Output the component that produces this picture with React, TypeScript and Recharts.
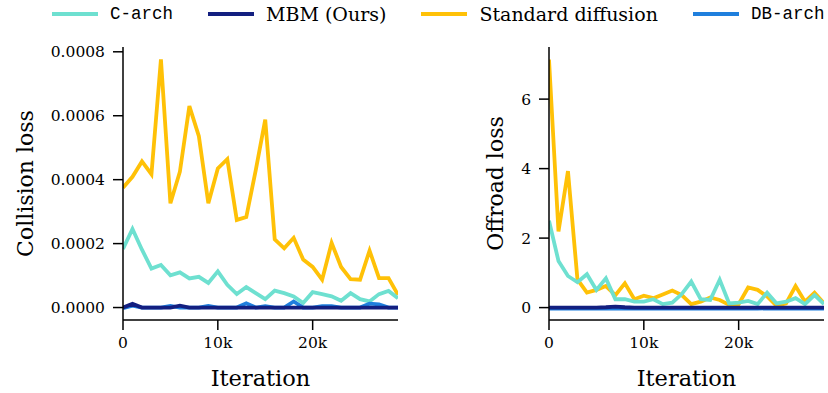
import { LineChart, Line, XAxis, YAxis, Label } from 'recharts'

const SERIF = '"DejaVu Serif", "Liberation Serif", serif'
const MONO = '"Liberation Mono", "DejaVu Sans Mono", monospace'

// iteration steps (x)
const iterations = [
  0, 1000, 2000, 3000, 4000, 5000, 6000, 7000, 8000, 9000,
  10000, 11000, 12000, 13000, 14000, 15000, 16000, 17000, 18000, 19000,
  20000, 21000, 22000, 23000, 24000, 25000, 26000, 27000, 28000, 29000,
]

// collision loss
const collisionCArch = [
  0.000183, 0.000246, 0.000181, 0.000122, 0.000133, 0.000101, 0.00011, 0.000091, 0.000096, 0.000077,
  0.000113, 0.000071, 0.000042, 0.000064, 0.000045, 0.000026, 0.000053, 0.000045, 0.000035, 0.000014,
  0.000048, 0.000042, 0.000035, 0.000021, 0.000045, 0.000026, 0.000019, 0.000042, 0.000052, 0.000029,
]
const collisionMBM = [
  0, 0.0000115, 0, 0, 0, 0, 0.000006, 0, 0, 0,
  0, 0, 0, 0, 0, 0, 0, 0, 0, 0,
  0, 0, 0, 0, 0, 0, 0, 0, 0, 0,
]
const collisionStd = [
  0.000375, 0.000409, 0.000457, 0.000417, 0.000776, 0.000326, 0.000425, 0.00063, 0.000536, 0.000326,
  0.000435, 0.000464, 0.000274, 0.000283, 0.00043, 0.000588, 0.000213, 0.000185, 0.000218, 0.00015,
  0.000127, 0.000087, 0.000202, 0.000127, 0.000089, 0.000087, 0.000178, 0.000092, 0.000092, 0.00004,
]
const collisionDB = [
  -0.000002, 0.000006, 0, 0, 0, 0.000005, 0, 0, 0, 0.000005,
  0, 0, 0, 0.0000135, 0, 0.000004, 0, 0, 0.000019, 0,
  0, 0.000004, 0.000004, 0, 0, 0, 0.000012, 0.00001, 0, 0,
]

// offroad loss
const offroadCArch = [
  2.5, 1.34, 0.91, 0.73, 0.96, 0.51, 0.84, 0.24, 0.24, 0.17,
  0.17, 0.24, 0.1, 0.14, 0.39, 0.75, 0.24, 0.22, 0.8, 0.12,
  0.14, 0.19, 0.1, 0.43, 0.12, 0.17, 0.27, 0.1, 0.36, 0.1,
]
const offroadMBM = [
  0, 0, 0, 0, 0, 0, 0.01, 0.03, 0.01, 0,
  0, 0, 0, 0, 0, 0, 0, 0, 0, 0,
  0, 0, 0, 0, 0, 0, 0, 0, 0, 0,
]
const offroadStd = [
  7.14, 2.19, 3.93, 0.81, 0.43, 0.51, 0.62, 0.36, 0.7, 0.24,
  0.34, 0.27, 0.38, 0.49, 0.36, 0.1, 0.17, 0.29, 0.22, 0.08,
  0.1, 0.58, 0.51, 0.32, 0.05, 0.12, 0.62, 0.17, 0.43, 0.12,
]
const offroadDB = [
  -0.03, -0.03, -0.02, -0.03, -0.03, -0.03, -0.02, -0.03, -0.03, -0.03,
  -0.03, -0.02, -0.03, -0.03, -0.03, -0.03, -0.03, -0.02, -0.03, -0.03,
  -0.03, -0.03, -0.03, -0.02, -0.03, -0.03, -0.03, -0.03, -0.02, -0.03,
]

const xTicks = [0, 10000, 20000]
const collisionTicks = [0, 0.0002, 0.0004, 0.0006, 0.0008]
const offroadTicks = [0, 2, 4, 6]

const seriesMeta = [
  { key: 'carch', name: 'C-arch', color: '#6ee0d0', mono: true },
  { key: 'mbm', name: 'MBM (Ours)', color: '#131f80', mono: false },
  { key: 'std', name: 'Standard diffusion', color: '#ffc107', mono: false },
  { key: 'db', name: 'DB-arch', color: '#1f7fdd', mono: true },
]
const drawOrder = ['std', 'carch', 'db', 'mbm']

const collisionData = iterations.map((x, i) => ({
  x,
  carch: collisionCArch[i],
  mbm: collisionMBM[i],
  std: collisionStd[i],
  db: collisionDB[i],
}))
const offroadData = iterations.map((x, i) => ({
  x,
  carch: offroadCArch[i],
  mbm: offroadMBM[i],
  std: offroadStd[i],
  db: offroadDB[i],
}))

const tickStyle = { fontSize: 15.5, fill: '#000', fontFamily: SERIF }
const axisStroke = { stroke: '#000', strokeWidth: 1.5 }

function Panel({ data, left, width, yAxisWidth, marginRight, yDomain, yTicks, yFormat, yLabel, labelX }: any) {
  return (
    <div style={{ position: 'absolute', left, top: 0 }}>
      <LineChart width={width} height={393} data={data} margin={{ top: 47, right: marginRight, left: 0, bottom: 0 }}>
        <XAxis
          dataKey="x"
          type="number"
          domain={[0, 29000]}
          ticks={xTicks}
          allowDataOverflow
          tickFormatter={v => (v === 0 ? '0' : `${v / 1000}k`)}
          tick={tickStyle}
          axisLine={axisStroke}
          tickLine={axisStroke}
          tickSize={10}
          tickMargin={7}
          height={73}
        >
          <Label value="Iteration" position="insideBottom" offset={7} style={{ fontSize: 22.5, fill: '#000', fontFamily: SERIF }} />
        </XAxis>
        <XAxis xAxisId="top" orientation="top" dataKey="x" type="number" domain={[0, 29000]} tick={false} tickLine={false} axisLine={axisStroke} height={0} />
        <YAxis
          type="number"
          domain={yDomain}
          ticks={yTicks}
          allowDataOverflow
          tickFormatter={yFormat}
          tick={tickStyle}
          axisLine={axisStroke}
          tickLine={axisStroke}
          tickSize={10}
          tickMargin={8}
          width={yAxisWidth}
        >
          <Label
            value={yLabel}
            angle={-90}
            position="insideLeft"
            offset={labelX}
            style={{ fontSize: 22, fill: '#000', fontFamily: SERIF, textAnchor: 'middle' }}
          />
        </YAxis>
        <YAxis yAxisId="right" orientation="right" type="number" domain={yDomain} tick={false} tickLine={false} axisLine={axisStroke} width={0} />
        {drawOrder.map(k => {
          const s = seriesMeta.find(m => m.key === k)!
          return (
            <Line
              key={k}
              dataKey={k}
              stroke={s.color}
              strokeWidth={3.8}
              dot={false}
              type="linear"
              isAnimationActive={false}
            />
          )
        })}
      </LineChart>
    </div>
  )
}

export default function App() {
  return (
    <div style={{ position: 'absolute', left: 0, top: 0, width: 828, height: 393, background: '#fff' }}>
      <div style={{ position: 'absolute', top: 3, left: 52, display: 'flex', alignItems: 'center', height: 22 }}>
        {seriesMeta.map((s, i) => (
          <div key={s.key} style={{ display: 'flex', alignItems: 'center', marginLeft: i === 0 ? 0 : 35 }}>
            <div style={{ width: 46, height: 4, background: s.color }} />
            <span
              style={{
                marginLeft: 12,
                fontFamily: s.mono ? MONO : SERIF,
                fontSize: s.mono ? 17.5 : 19,
                color: '#000',
                whiteSpace: 'nowrap',
              }}
            >
              {s.name}
            </span>
          </div>
        ))}
      </div>
      <Panel
        data={collisionData}
        left={0}
        width={410}
        yAxisWidth={123}
        marginRight={12}
        yDomain={[-0.000039, 0.000815]}
        yTicks={collisionTicks}
        yFormat={(v: number) => v.toFixed(4)}
        yLabel="Collision loss"
        labelX={25}
      />
      <Panel
        data={offroadData}
        left={410}
        width={418}
        yAxisWidth={139}
        marginRight={4}
        yDomain={[-0.357, 7.5]}
        yTicks={offroadTicks}
        yFormat={(v: number) => String(v)}
        yLabel="Offroad loss"
        labelX={85}
      />
    </div>
  )
}
